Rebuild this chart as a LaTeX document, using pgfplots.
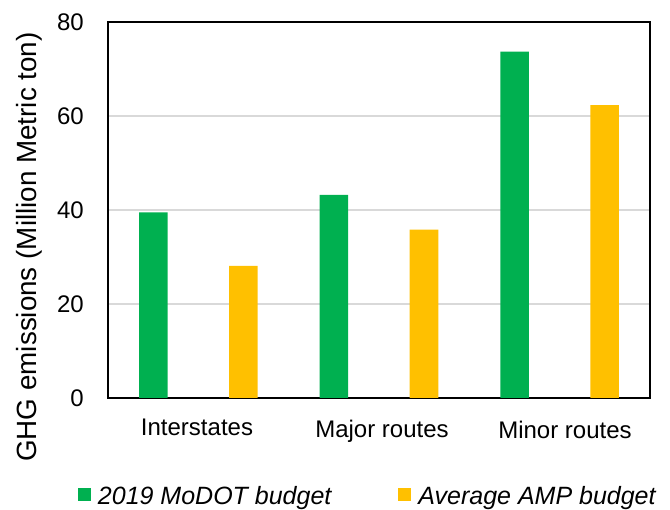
\documentclass[border=0pt]{standalone}
\usepackage{pgfplots}
\pgfplotsset{compat=1.18}
\usepackage{fontspec}
\setmainfont{Liberation Sans}
\usetikzlibrary{calc}
\definecolor{cgreen}{HTML}{00B050}
\definecolor{cyellow}{HTML}{FFC000}
\definecolor{cgrid}{HTML}{D9D9D9}
\begin{document}
\begin{tikzpicture}
\begin{axis}[name=ax,
 scale only axis, width=542pt, height=376pt,
 xmin=-0.5, xmax=2.5, ymin=0, ymax=80,
 ytick={0,20,40,60,80},
 xtick={-0.0074,1.0166,2.0295},
 xticklabels={\raisebox{1.5pt}{Interstates},Major routes,\raisebox{-1.5pt}{Minor routes}},
 major tick length=0pt,
 ymajorgrids, grid style={cgrid, line width=1.3pt},
 axis line style={black, line width=1.5pt},
 /pgf/number format/assume math mode=true,
 ticklabel style={font=\fontsize{24}{28}\selectfont},
 yticklabel style={anchor=east, inner sep=0pt, xshift=-24pt},
 xticklabel style={anchor=base, inner sep=0pt, yshift=-39.5pt},
 ybar, bar width=28.5pt,
 clip=false,
 legend columns=2,
 legend style={draw=none, fill=none, inner sep=0pt, outer sep=0pt,
   font=\fontsize{25}{30}\selectfont\itshape,
   at={(rel axis cs:-0.0554,-0.2615)}, anchor=west,
   /tikz/every odd column/.append style={column sep=7pt},
   /tikz/every even column/.append style={column sep=67pt},
   nodes={inner sep=0pt}},
 legend image code/.code={\fill[#1] (0pt,-5pt) rectangle (13pt,8pt);},
]
\addplot[fill=cgreen, draw=none, bar shift=-45pt] coordinates {(0,39.5) (1,43.2) (2,73.7)};
\addplot[fill=cyellow, draw=none, bar shift=45pt] coordinates {(0,28.1) (1,35.8) (2,62.3)};
\legend{2019 MoDOT budget, Average AMP budget}
\end{axis}
\node[rotate=90, inner sep=0pt, font=\fontsize{27.8}{32}\selectfont] at ($(ax.south west)+(-78.4pt,151pt)$) {GHG emissions (Million Metric ton)};
\path (ax.south west) ++(-108pt,-112pt) rectangle ++(670pt,510pt);
\end{tikzpicture}
\end{document}
